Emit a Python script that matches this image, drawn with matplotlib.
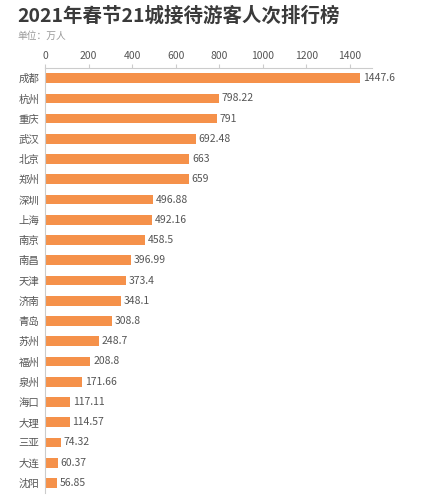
import matplotlib.pyplot as plt
import numpy as np

plt.rcParams['font.family'] = ['Noto Sans CJK SC', 'DejaVu Sans']

cities = ["成都", "杭州", "重庆", "武汉", "北京", "郑州", "深圳", "上海", "南京", "南昌",
          "天津", "济南", "青岛", "苏州", "福州", "泉州", "海口", "大理", "三亚", "大连", "沈阳"]
visitors = [1447.6, 798.22, 791, 692.48, 663, 659, 496.88, 492.16, 458.5, 396.99,
            373.4, 348.1, 308.8, 248.7, 208.8, 171.66, 117.11, 114.57, 74.32, 60.37, 56.85]
labels = ["1447.6", "798.22", "791", "692.48", "663", "659", "496.88", "492.16", "458.5", "396.99",
          "373.4", "348.1", "308.8", "248.7", "208.8", "171.66", "117.11", "114.57", "74.32", "60.37", "56.85"]
xticks = [0, 200, 400, 600, 800, 1000, 1200, 1400]

bar_color = "#F5914A"
txt_color = "#555555"

fig = plt.figure(figsize=(4.24, 5.0), dpi=100)
ax = fig.add_axes([0.106, 0.014, 0.771, 0.85])

y = np.arange(len(cities))
ax.barh(y, visitors, height=0.48, color=bar_color)
for yi, v, lab in zip(y, visitors, labels):
    ax.text(v + 12, yi, lab, va="center", ha="left", fontsize=7.5, color=txt_color)

ax.set_ylim(len(cities) - 0.5, -0.5)
ax.set_xlim(0, 1500)
ax.set_yticks(y, cities)
ax.set_xticks(xticks)
ax.xaxis.tick_top()
ax.tick_params(axis="x", length=3, color="#cccccc", labelsize=7.5, labelcolor=txt_color, pad=2)
ax.tick_params(axis="y", length=0, labelsize=7.5, labelcolor=txt_color, pad=4)
for s in ["right", "bottom"]:
    ax.spines[s].set_visible(False)
ax.spines["top"].set_color("#cccccc")
ax.spines["left"].set_color("#cccccc")
ax.spines["top"].set_linewidth(0.8)
ax.spines["left"].set_linewidth(0.8)

fig.text(0.04, 0.968, "2021年春节21城接待游客人次排行榜", fontsize=14, fontweight="bold",
         color="#3a3a3a", va="center", ha="left")
fig.text(0.04, 0.929, "单位：万人", fontsize=7, color="#999999", va="center", ha="left")

fig.savefig("out.png", dpi=100)
